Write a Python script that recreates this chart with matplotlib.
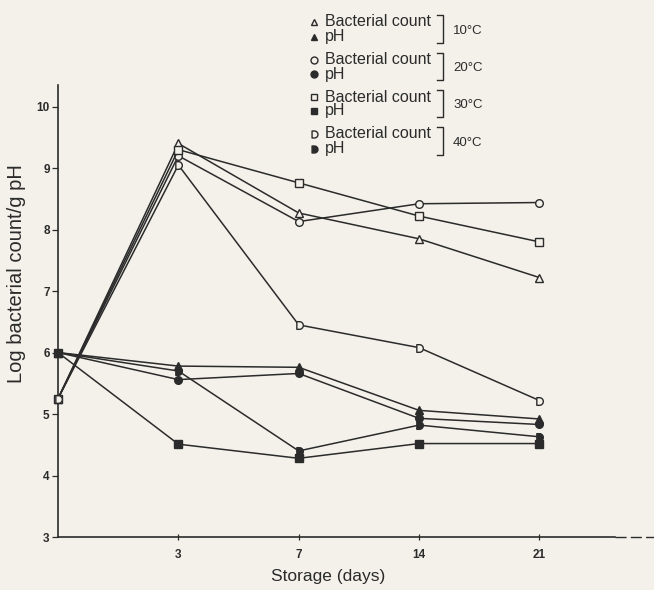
import numpy as np
import matplotlib
matplotlib.use("Agg")
import matplotlib.pyplot as plt
from matplotlib.path import Path

plt.rcParams['font.family'] = ['Liberation Sans', 'DejaVu Sans']

# ── Data ─────────────────────────────────────────────────────
days = ['0', '3', '7', '14', '21']
temps = ['10°C', '20°C', '30°C', '40°C']

count_10 = [5.25, 9.40, 8.27, 7.85, 7.22]
count_20 = [5.25, 9.20, 8.13, 8.42, 8.44]
count_30 = [5.25, 9.30, 8.76, 8.22, 7.80]
count_40 = [5.25, 9.05, 6.45, 6.08, 5.22]

ph_10 = [6.00, 5.78, 5.76, 5.06, 4.92]
ph_20 = [6.00, 5.56, 5.66, 4.93, 4.83]
ph_40 = [6.00, 5.70, 4.40, 4.82, 4.63]
ph_30 = [6.00, 4.51, 4.28, 4.52, 4.52]

# ── Style ────────────────────────────────────────────────────
BG = '#f3f1ea'
INK = '#2b2b2b'

# "D" shaped marker: flat left side, round right side
th = np.linspace(np.pi / 2, -np.pi / 2, 25)
d_verts = [(-0.7, -1.0), (-0.7, 1.0)] + list(zip(np.cos(th) * 1.0, np.sin(th))) + [(-0.7, -1.0)]
d_marker = Path(d_verts, closed=True)

markers = {'10°C': '^', '20°C': 'o', '30°C': 's', '40°C': d_marker}
counts = {'10°C': count_10, '20°C': count_20, '30°C': count_30, '40°C': count_40}
phs = {'10°C': ph_10, '20°C': ph_20, '30°C': ph_30, '40°C': ph_40}

fig = plt.figure(figsize=(6.54, 5.90), dpi=100, facecolor=BG)
ax = fig.add_axes([0.0887, 0.0898, 0.852, 0.766])
ax.set_facecolor(BG)

x = np.arange(len(days))
for t in temps:
    ax.plot(x, counts[t], color=INK, lw=1.1, marker=markers[t], ms=5.5,
            mfc=BG, mec=INK, mew=1.0, clip_on=False, zorder=3)
    ax.plot(x, phs[t], color=INK, lw=1.1, marker=markers[t], ms=5.5,
            mfc=INK, mec=INK, mew=1.0, clip_on=False, zorder=3)

ax.set_xlim(0, 4.63)
ax.set_ylim(3, 10.35)
ax.set_xticks(x[1:])
ax.set_xticklabels(days[1:], fontsize=8.5, fontweight='bold')
ax.set_yticks(range(3, 11))
ax.set_yticklabels([str(v) for v in range(3, 11)], fontsize=8.5, fontweight='bold')
ax.tick_params(axis='y', direction='out', length=4, width=0.9, colors=INK, pad=2)
ax.tick_params(axis='x', direction='inout', length=5, width=0.9, colors=INK, pad=6)
for s in ['top', 'right']:
    ax.spines[s].set_visible(False)
for s in ['left', 'bottom']:
    ax.spines[s].set_color(INK)
    ax.spines[s].set_linewidth(1.2)

# dashed continuation of the x axis
ax.plot([1.0, 1.07], [0, 0], transform=ax.transAxes, color=INK, lw=1.0,
        dashes=(8, 3), clip_on=False)

ax.set_xlabel('Storage (days)', fontsize=12.5, color=INK)
ax.xaxis.set_label_coords(0.485, -0.07)
ax.set_ylabel('Log bacterial count/g pH', fontsize=14.5, color=INK)
ax.yaxis.set_label_coords(-0.058, 0.584)

# ── Legend (manual, with brackets) ───────────────────────────
W, H = 654, 590
def fx(px):
    return px / W
def fy(py):
    return 1 - py / H

row_y = [22, 37, 60, 74, 97, 111, 134, 149]
for i, t in enumerate(temps):
    y1, y2 = row_y[2 * i], row_y[2 * i + 1]
    fig.lines.append(plt.Line2D([fx(314)], [fy(y1)], transform=fig.transFigure,
                                marker=markers[t], ms=5, mfc=BG, mec=INK, mew=1.0, ls=''))
    fig.lines.append(plt.Line2D([fx(314)], [fy(y2)], transform=fig.transFigure,
                                marker=markers[t], ms=5, mfc=INK, mec=INK, mew=1.0, ls=''))
    fig.text(fx(325), fy(y1), 'Bacterial count', fontsize=11.5, color=INK, va='center')
    fig.text(fx(325), fy(y2), 'pH', fontsize=11.5, color=INK, va='center')
    top, bot = y1 - 7, y2 + 6
    fig.lines.append(plt.Line2D([fx(437), fx(443), fx(443), fx(437)],
                                [fy(top), fy(top), fy(bot), fy(bot)],
                                transform=fig.transFigure, color=INK, lw=1.0))
    fig.text(fx(453), fy((y1 + y2) / 2 + 1), t, fontsize=9.5, color=INK, va='center')

fig.savefig('out.png', dpi=100, facecolor=BG)
